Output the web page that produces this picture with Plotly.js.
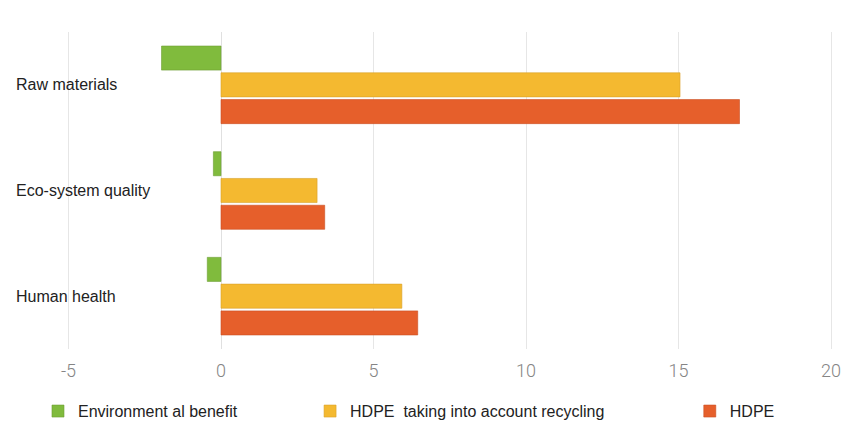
<!DOCTYPE html>
<html>
<head>
<meta charset="utf-8">
<script src="https://cdn.plot.ly/plotly-3.0.1.min.js"></script>
<style>html,body{margin:0;padding:0;background:#fff;}#chart{width:859px;height:423px;}</style>
</head>
<body>
<div id="chart"></div>
<script>
var categories = ["Raw materials", "Eco-system quality", "Human health"];
var seriesNames = ["Environment al benefit", "HDPE  taking into account recycling", "HDPE"];
var envBenefit = [-1.95, -0.25, -0.45];
var hdpeRecycling = [15.05, 3.15, 5.93];
var hdpe = [17.0, 3.4, 6.45];
var xTickValues = [-5, 0, 5, 10, 15, 20];

var colors = ["#80bb3d", "#f4b930", "#e65f2b"];
var lineColors = ["#6c9e33", "#d9a12a", "#c94f22"];
var values = [envBenefit, hdpeRecycling, hdpe];
var legends = ["legend", "legend2", "legend3"];

var traces = values.map(function (v, i) {
  return {
    type: "bar",
    orientation: "h",
    name: seriesNames[i],
    x: v,
    y: categories,
    marker: {color: colors[i], line: {color: lineColors[i], width: 0.6}},
    legend: legends[i],
    hoverinfo: "none"
  };
});

var legendFont = {family: "Liberation Sans, Arial, sans-serif", size: 16, color: "#222"};
function leg(x) {
  return {x: x, y: 0.028, xref: "paper", yref: "container", xanchor: "left", yanchor: "middle",
          orientation: "h", font: legendFont, bgcolor: "rgba(0,0,0,0)", itemwidth: 30, tracegroupgap: 0};
}

var annotations = categories.map(function (c) {
  return {
    text: c, x: -0.001, xref: "paper", xanchor: "left",
    y: c, yref: "y", yanchor: "middle", showarrow: false,
    font: {family: "Liberation Sans, Arial, sans-serif", size: 16, color: "#222"}
  };
});

var layout = {
  width: 859,
  height: 423,
  margin: {l: 15, r: 14, t: 32, b: 74},
  paper_bgcolor: "#ffffff",
  plot_bgcolor: "#ffffff",
  barmode: "group",
  bargap: 0.24,
  bargroupgap: 0.1,
  showlegend: true,
  legend: leg(0.0277),
  legend2: leg(0.3555),
  legend3: leg(0.813),
  annotations: annotations,
  xaxis: {
    range: [(15 - 221) / 30.5, (845 - 221) / 30.5],
    tickvals: xTickValues,
    ticktext: xTickValues.map(String),
    showgrid: true,
    gridcolor: "#e6e6e6",
    gridwidth: 1,
    zeroline: true,
    zerolinecolor: "#e0e0e0",
    zerolinewidth: 1,
    showline: false,
    ticks: "",
    ticklabelstandoff: 9,
    tickfont: {family: "Roboto, Liberation Sans, sans-serif", weight: 300, size: 18, color: "#858585"}
  },
  yaxis: {
    type: "category",
    categoryorder: "array",
    categoryarray: categories,
    autorange: "reversed",
    showgrid: false,
    zeroline: false,
    showline: false,
    showticklabels: false,
    ticks: ""
  }
};

Plotly.newPlot("chart", traces, layout, {staticPlot: true, displayModeBar: false});
</script>
</body>
</html>
